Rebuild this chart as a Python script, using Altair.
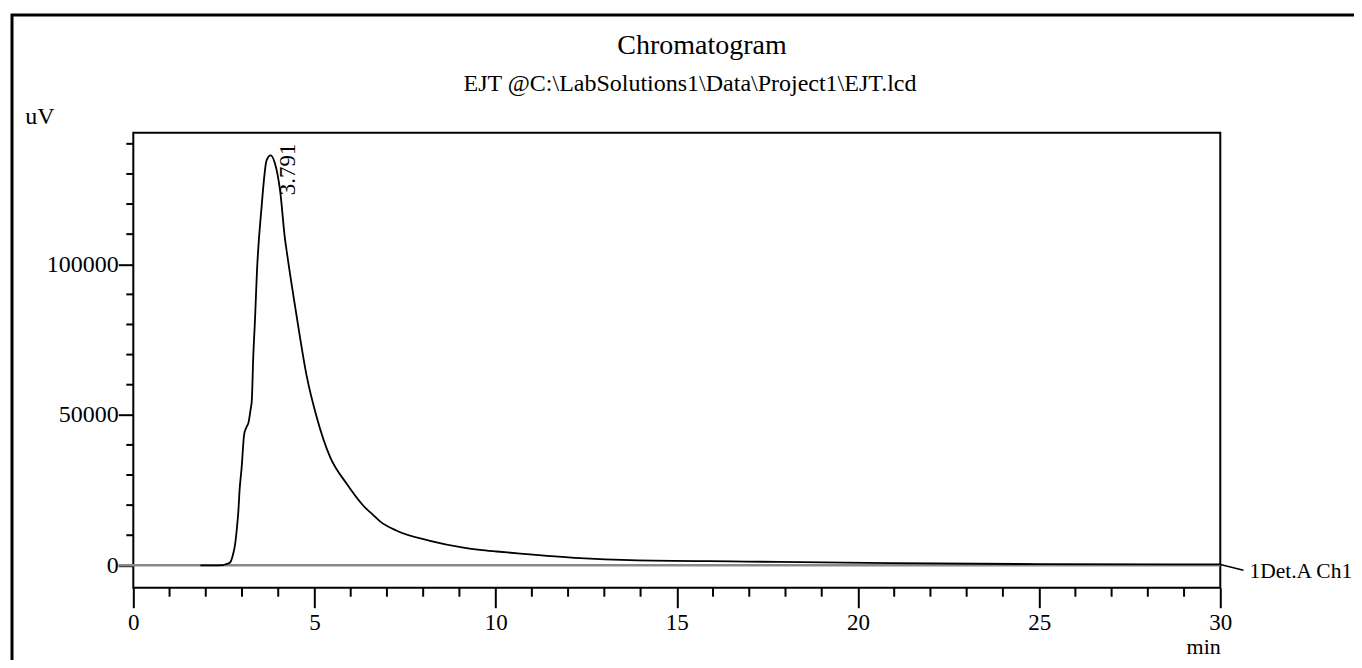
import altair as alt
import pandas as pd

# ---- data ----
time_min = [1.85, 2.20, 2.48, 2.58, 2.67, 2.76, 2.81, 2.86, 2.90, 2.93, 2.99, 3.06, 3.12, 3.18,
            3.24, 3.27, 3.31, 3.36, 3.41, 3.54, 3.68, 3.79, 3.91, 4.05, 4.19, 4.23,
            4.51, 4.79, 5.06, 5.43, 5.89, 6.35, 6.63, 6.81, 7.27,
            8.19, 9.11, 9.57, 10.03, 10.68, 12.33, 13.71, 16.93, 20.89, 25.0, 30.0]
signal_uv = [0, 0, 100, 500, 930, 4000, 7050, 12500, 18100, 24500, 32500, 43600, 45800, 47500,
             52000, 54700, 69100, 82000, 96900, 119000, 134600, 136200, 133500, 124600, 108000,
             104600, 82600, 62600, 49300, 36000, 27100, 19800, 16600, 14600, 11500,
             8150, 5900, 5150, 4600, 3900, 2400, 1730, 1260, 730, 400, 300]

peak_time = [3.791]
peak_height = [136200]
peak_label = ["3.791"]

channel_name = ["1Det.A Ch1"]
leader_time = [30.0, 30.64]
leader_uv = [300, -1600]

x_major = [0, 5, 10, 15, 20, 25, 30]
x_minor = [t for t in range(0, 31) if t % 5 != 0]
y_major = [0, 50000, 100000]
y_minor = [v for v in range(10000, 140001, 10000) if v % 50000 != 0]

title_lines = ["Chromatogram", "EJT @C:\\LabSolutions1\\Data\\Project1\\EJT.lcd"]

FONT = "Liberation Serif"
W, H = 1087, 455
X_DOMAIN = [0, 30]
Y_DOMAIN = [-7420, 143700]

sig = pd.DataFrame({"t": time_min, "v": signal_uv})
peak = pd.DataFrame({"t": peak_time, "v": peak_height, "label": peak_label})
lead = pd.DataFrame({"t": leader_time, "v": leader_uv})
chan = pd.DataFrame({"t": [leader_time[-1]], "v": [leader_uv[-1]], "label": channel_name})

x_scale = alt.Scale(domain=X_DOMAIN, nice=False, zero=False)
y_scale = alt.Scale(domain=Y_DOMAIN, nice=False, zero=False)

x_axis = alt.Axis(
    values=x_major, tickSize=20, labelOverlap=False,
    tickColor="black", tickWidth=2, domain=False, grid=False,
    labelFont=FONT, labelFontSize=23, labelColor="black", labelPadding=4,
    labelFlush=False,
    title="min", titleFont=FONT, titleFontSize=22, titleFontWeight="normal",
    titleColor="black", titleAlign="right", titleAnchor="end",
    titleX=W, titleY=66, titleBaseline="alphabetic",
)
y_axis = alt.Axis(
    values=y_major, tickSize=15, labelOverlap=False, format="d",
    tickColor="black", tickWidth=2, domain=False, grid=False,
    labelFont=FONT, labelFontSize=24, labelColor="black", labelPadding=0,
    labelFlush=False,
    title="uV", titleFont=FONT, titleFontSize=24, titleFontWeight="normal",
    titleColor="black", titleAngle=0, titleAlign="center", titleBaseline="middle",
    titleX=-94, titleY=-16,
)

zero_line = alt.Chart(pd.DataFrame({"v": [0]})).mark_rule(
    color="#8a8a8a", strokeWidth=2.5
).encode(
    y=alt.Y("v:Q", scale=y_scale, axis=y_axis),
    x=alt.value(-15),
    x2=alt.value(W),
)

x_minor_ticks = alt.Chart(pd.DataFrame({"t": x_minor})).mark_rule(
    color="black", strokeWidth=2, clip=False
).encode(
    x=alt.X("t:Q", scale=x_scale, axis=x_axis),
    y=alt.value(H), y2=alt.value(H + 9),
)

y_minor_ticks = alt.Chart(pd.DataFrame({"v": y_minor})).mark_rule(
    color="black", strokeWidth=2, clip=False
).encode(
    y=alt.Y("v:Q", scale=y_scale, axis=y_axis),
    x=alt.value(-7), x2=alt.value(0),
)

signal = alt.Chart(sig).mark_line(color="black", strokeWidth=1.8, interpolate="monotone").encode(
    x=alt.X("t:Q", scale=x_scale, axis=x_axis),
    y=alt.Y("v:Q", scale=y_scale, axis=y_axis),
)

peak_text = alt.Chart(peak).mark_text(
    font=FONT, fontSize=23, angle=270, align="left", baseline="middle",
    dx=-40, dy=17, color="black",
).encode(
    x=alt.X("t:Q", scale=x_scale),
    y=alt.Y("v:Q", scale=y_scale),
    text="label:N",
)

leader = alt.Chart(lead).mark_line(color="black", strokeWidth=1.5, clip=False).encode(
    x=alt.X("t:Q", scale=x_scale),
    y=alt.Y("v:Q", scale=y_scale),
)

chan_text = alt.Chart(chan).mark_text(
    font=FONT, fontSize=21.5, align="left", baseline="middle", dx=6, dy=2, color="black",
).encode(
    x=alt.X("t:Q", scale=x_scale),
    y=alt.Y("v:Q", scale=y_scale),
    text="label:N",
)

title1 = alt.Chart(pd.DataFrame({"s": [title_lines[0]]})).mark_text(
    font=FONT, fontSize=28, align="center", baseline="middle", color="black",
).encode(text="s:N", x=alt.value(702 - 133.3), y=alt.value(46 - 132.7))

title2 = alt.Chart(pd.DataFrame({"s": [title_lines[1]]})).mark_text(
    font=FONT, fontSize=24, align="center", baseline="middle", color="black",
).encode(text="s:N", x=alt.value(690 - 133.3), y=alt.value(84 - 132.7))

border = alt.Chart(pd.DataFrame({"a": [0]})).mark_rect(
    fill=None, stroke="black", strokeWidth=3, clip=False
).encode(
    x=alt.value(12 - 133.3), x2=alt.value(1420 - 133.3),
    y=alt.value(15 - 132.7), y2=alt.value(700),
)

chart = alt.layer(
    zero_line, x_minor_ticks, y_minor_ticks, signal, leader, peak_text, chan_text,
    title1, title2, border
).properties(
    width=W, height=H,
    autosize=alt.AutoSizeParams(type="none"),
    padding={"left": 125.3, "top": 124.7, "right": 133.5, "bottom": 72},
).configure(background="white").configure_view(stroke="black", strokeWidth=2)

chart.save("out.html", embed_options={"renderer": "svg", "actions": False})
